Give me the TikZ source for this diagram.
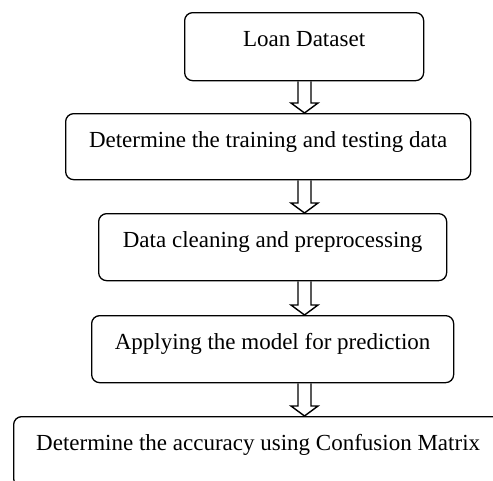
\documentclass[tikz,border=0pt]{standalone}
\usepackage{fontspec}
\setmainfont{Liberation Serif}
\usetikzlibrary{calc}

\tikzset{
  stage/.style={draw, rounded corners=8pt, line width=1.3pt, inner sep=0pt,
    anchor=north west, text height=34pt, font=\fontsize{23}{27}\selectfont},
  hollow/.style={draw, line width=1.4pt, line join=miter}
}

% hollow block arrow from the bottom of #1 to the top of #2
\newcommand{\stagearrow}[2]{%
  \draw[hollow] ($(#1.south -| ax)+(-6.5,0)$) -- ($(#2.north -| ax)+(-6.5,-10)$)
    -- ($(#2.north -| ax)+(-13.5,-10)$) -- (#2.north -| ax)
    -- ($(#2.north -| ax)+(13.5,-10)$) -- ($(#2.north -| ax)+(6.5,-10)$)
    -- ($(#1.south -| ax)+(6.5,0)$);}

\begin{document}
\begin{tikzpicture}[x=1pt, y=-1pt]
    \clip (0,0) rectangle (493,480);
    \coordinate (ax) at (304.5,0);

    \node[stage, minimum width=239pt, text depth=34pt] (loan) at (184,12) {Loan Dataset};
    \node[stage, minimum width=405pt, text depth=32pt] (split) at (65,113) {Determine the training and testing data};
    \node[stage, minimum width=348pt, text depth=33pt] (clean) at (98,213) {Data cleaning and preprocessing};
    \node[stage, minimum width=362pt, text depth=33pt] (model) at (91,315) {Applying the model for prediction};
    \node[stage, minimum width=489pt, text depth=36pt] (acc) at (13,416) {Determine the accuracy using Confusion Matrix};

    \stagearrow{loan}{split}
    \stagearrow{split}{clean}
    \stagearrow{clean}{model}
    \stagearrow{model}{acc}
\end{tikzpicture}
\end{document}
